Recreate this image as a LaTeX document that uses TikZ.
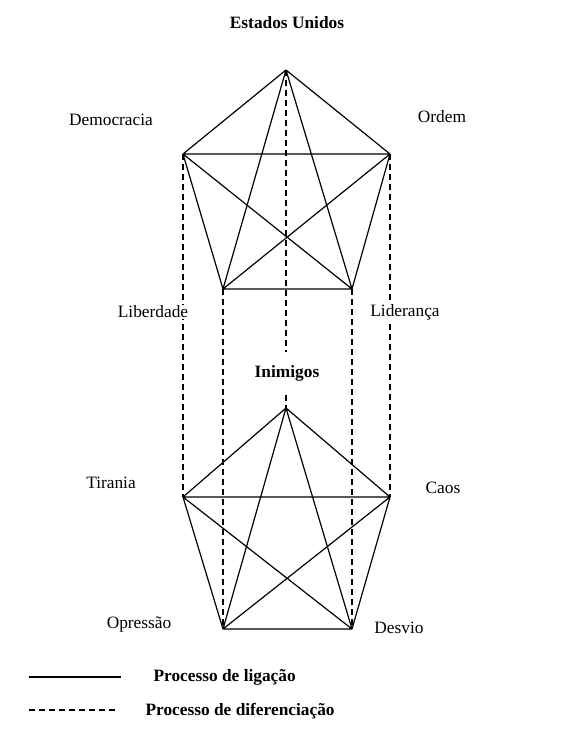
\documentclass[tikz,border=0pt]{standalone}
\usepackage{fontspec}
\setmainfont{Liberation Serif}
\begin{document}
\begin{tikzpicture}[x=0.75pt,y=-0.75pt,
  solidline/.style={line width=0.9pt,black},
  dashline/.style={line width=1pt,black,dash pattern=on 4.5pt off 3pt},
  lbl/.style={font=\fontsize{13}{15}\selectfont,inner sep=1pt,fill=white},
  blbl/.style={font=\fontsize{13}{15}\selectfont\bfseries,inner sep=1pt,fill=white}]
\useasboundingbox (0,0) rectangle (564,735);
% top pentagon
\coordinate (tA) at (286,70);
\coordinate (tL) at (183,154);
\coordinate (tR) at (390,154);
\coordinate (tBL) at (223,289);
\coordinate (tBR) at (352,289);
% bottom pentagon
\coordinate (bA) at (286,408);
\coordinate (bL) at (183,497);
\coordinate (bR) at (390,497);
\coordinate (bBL) at (223,629);
\coordinate (bBR) at (352,629);
% centre gap
\coordinate (c1) at (286,352);
\coordinate (c2) at (286,395);
% solid complete graphs
\foreach \p in {t,b}{
  \draw[solidline] (\p A) -- (\p L) (\p A) -- (\p R) (\p A) -- (\p BL) (\p A) -- (\p BR)
    (\p L) -- (\p R) (\p L) -- (\p BL) (\p L) -- (\p BR)
    (\p R) -- (\p BL) (\p R) -- (\p BR) (\p BL) -- (\p BR);
}
% dashed links
\draw[dashline] (tL) -- (bL);
\draw[dashline] (tR) -- (bR);
\draw[dashline] (tBL) -- (bBL);
\draw[dashline] (tBR) -- (bBR);
\draw[dashline] (tA) -- (c1);
\draw[dashline] (c2) -- (bA);
% labels
\node[blbl] (eu) at (287,23) {Estados Unidos};
\node[lbl] (dem) at (111,120) {Democracia};
\node[lbl] (ord) at (442,117) {Ordem};
\node[lbl] (lib) at (153,312) {Liberdade};
\node[lbl] (lid) at (405,312) {Liderança};
\node[blbl] (ini) at (287,373) {Inimigos};
\node[lbl] (tir) at (111,483) {Tirania};
\node[lbl] (cao) at (443,488) {Caos};
\node[lbl] (opr) at (139,624) {Opressão};
\node[lbl] (des) at (399,628) {Desvio};
% legend
\coordinate (l1a) at (29,677);
\coordinate (l1b) at (121,677);
\coordinate (l2a) at (29,710);
\coordinate (l2b) at (116,710);
\draw[solidline,line width=1pt] (l1a) -- (l1b);
\draw[dashline] (l2a) -- (l2b);
\node[blbl,anchor=west] (leg1) at (152,677) {Processo de ligação};
\node[blbl,anchor=west] (leg2) at (144,711) {Processo de diferenciação};
\end{tikzpicture}
\end{document}
